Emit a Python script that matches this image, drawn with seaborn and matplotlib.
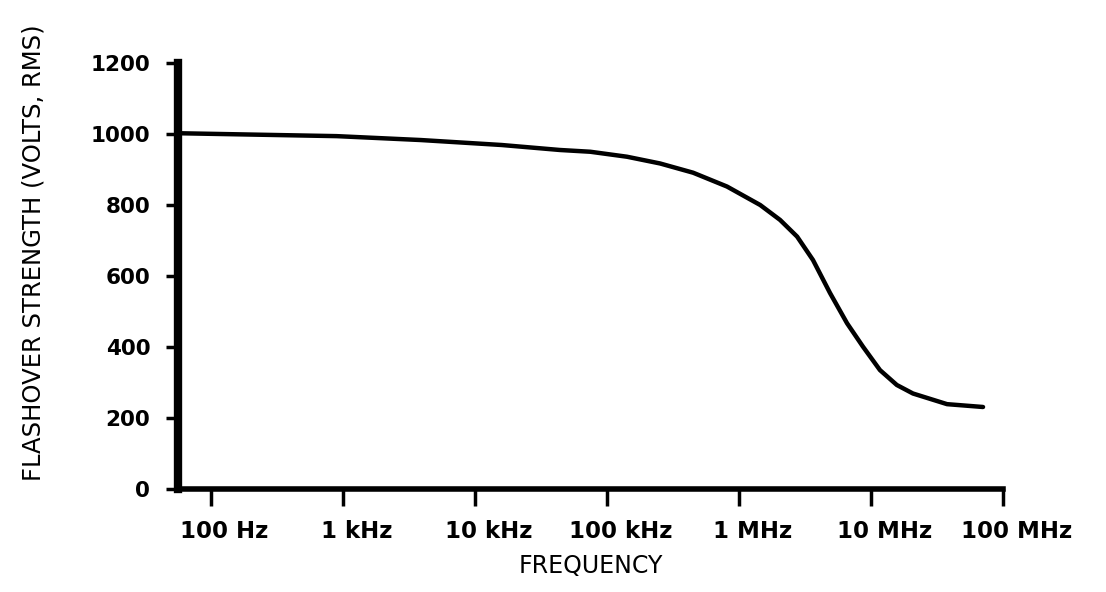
import matplotlib
matplotlib.use("Agg")
import matplotlib.pyplot as plt
import matplotlib.transforms as mtransforms
import numpy as np
import pandas as pd
import seaborn as sns

# ---- data ----
freq_hz = [60, 900, 3.9e3, 16e3, 44e3, 75e3, 142e3, 253e3, 450e3, 813e3,
           1.45e6, 2.05e6, 2.76e6, 3.64e6, 4.9e6, 6.59e6, 8.7e6, 11.7e6,
           15.7e6, 20.8e6, 37.7e6, 70.6e6]
flashover_v = [1002, 994, 983, 969, 955, 950, 936, 917, 891, 852,
               800, 758, 711, 645, 552, 467, 401, 335,
               293, 269, 239, 231]

x_ticks = [1e2, 1e3, 1e4, 1e5, 1e6, 1e7, 1e8]
x_ticklabels = ["100 Hz", "1 kHz", "10 kHz", "100 kHz", "1 MHz", "10 MHz", "100 MHz"]
y_ticks = [0, 200, 400, 600, 800, 1000, 1200]

df = pd.DataFrame({"freq": freq_hz, "volts": flashover_v})

sns.set_style("ticks")
plt.rcParams["font.family"] = ["DejaVu Sans"]

fig = plt.figure(figsize=(11.06, 5.92), dpi=100)
ax = fig.add_axes([178 / 1106, 1 - 489 / 592, 825 / 1106, 426 / 592])

sns.lineplot(data=df, x="freq", y="volts", ax=ax, color="black",
             linewidth=3.2, estimator=None, sort=True)

ax.set_xscale("log")
ax.set_xlim(56.6, 1e8)
ax.set_ylim(0, 1200)
ax.set_xticks(x_ticks)
ax.set_xticklabels(x_ticklabels)
ax.xaxis.set_minor_locator(matplotlib.ticker.NullLocator())
ax.set_yticks(y_ticks)
ax.set_yticklabels([str(v) for v in y_ticks])

sns.despine(ax=ax, top=True, right=True)
ax.spines["left"].set_linewidth(6)
ax.spines["bottom"].set_linewidth(4)
ax.spines["left"].set_color("black")
ax.spines["bottom"].set_color("black")

ax.tick_params(axis="x", direction="out", length=12, width=2.5, pad=10,
               labelsize=16.5, colors="black")
ax.tick_params(axis="y", direction="out", length=9, width=2.5, pad=11,
               labelsize=15.5, colors="black")
for lbl in ax.get_yticklabels():
    lbl.set_fontweight("bold")
offset = mtransforms.ScaledTranslation(14 / 100, 0, fig.dpi_scale_trans)
for lbl in ax.get_xticklabels():
    lbl.set_fontweight("bold")
    lbl.set_transform(lbl.get_transform() + offset)

ax.set_xlabel("FREQUENCY", fontsize=17, labelpad=8, color="black")
ax.set_ylabel("FLASHOVER STRENGTH (VOLTS, RMS)", fontsize=17.5, color="black")
ax.yaxis.set_label_coords(-0.160, 0.554)
ax.grid(False)

fig.savefig("out.png", dpi=100, facecolor="white")
